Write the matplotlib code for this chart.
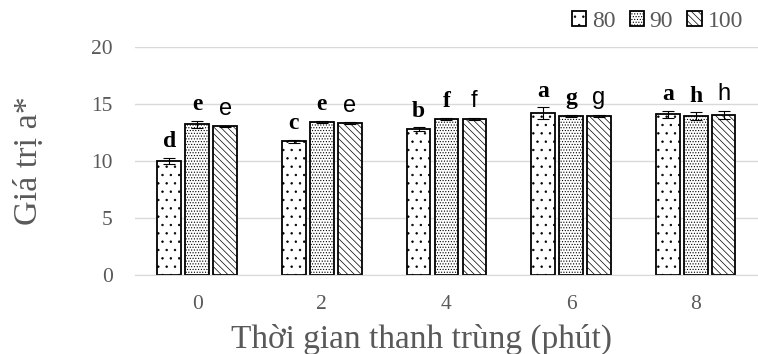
import numpy as np
import matplotlib.pyplot as plt
from matplotlib.patches import Patch

# data
times = ['0', '2', '4', '6', '8']
temps = ['80', '90', '100']
a80 = [10.0, 11.7, 12.8, 14.2, 14.1]
a90 = [13.2, 13.4, 13.7, 13.95, 13.9]
a100 = [13.05, 13.3, 13.7, 13.95, 14.05]
err80 = [0.25, 0.15, 0.15, 0.5, 0.3]
err90 = [0.3, 0.12, 0.1, 0.08, 0.35]
err100 = [0.05, 0.08, 0.08, 0.08, 0.35]
lab80 = ['d', 'c', 'b', 'a', 'a']
lab90 = ['e', 'e', 'f', 'g', 'h']
lab100 = ['e', 'e', 'f', 'g', 'h']

plt.rcParams['hatch.linewidth'] = 0.5
serif = ['Liberation Serif', 'DejaVu Serif']
gray = '#595959'
hatches = ['..', '......', '\\\\\\\\\\']

fig = plt.figure(figsize=(7.58, 3.54), dpi=100)
ax = fig.add_axes([0.178, 0.223, 0.822, 0.645])

x = np.arange(len(times))
pitch = 0.224
width = 0.19
series = [(a80, err80, lab80, hatches[0], ['Liberation Serif'], 'bold'),
          (a90, err90, lab90, hatches[1], ['Liberation Serif'], 'bold'),
          (a100, err100, lab100, hatches[2], ['Liberation Sans'], 'normal')]

for i, (vals, errs, labs, hatch, fam, wt) in enumerate(series):
    pos = x + (i - 1) * pitch
    ax.bar(pos, vals, width, color='white', edgecolor='black', linewidth=1.3,
           hatch=hatch, zorder=2)
    ax.errorbar(pos, vals, yerr=errs, fmt='none', ecolor='black', elinewidth=0.8,
                capsize=4.5, capthick=0.8, zorder=3)
    for p, v, e, l in zip(pos, vals, errs, labs):
        ax.annotate(l, (p, v + e), xytext=(0, 4), textcoords='offset points',
                    ha='center', va='bottom', fontsize=17, fontweight=wt,
                    family=fam, color='black')

ax.set_xlim(-0.5, 4.5)
ax.set_ylim(0, 20)
ax.set_yticks([0, 5, 10, 15, 20])
ax.set_xticks(x)
ax.set_xticklabels(times)
ax.yaxis.grid(True, color='#d9d9d9', linewidth=1)
ax.set_axisbelow(True)
for s in ['top', 'right', 'left']:
    ax.spines[s].set_visible(False)
ax.spines['bottom'].set_color('#d9d9d9')
ax.tick_params(length=0, labelsize=15.5, labelcolor=gray)
ax.tick_params(axis='x', pad=14)
ax.tick_params(axis='y', pad=16)
for t in ax.get_xticklabels() + ax.get_yticklabels():
    t.set_family(serif)

ax.set_ylabel('Giá trị a*', fontsize=24.5, family=serif, color=gray)
ax.yaxis.set_label_coords(-0.146, 0.5)
ax.set_xlabel('Thời gian thanh trùng (phút)', fontsize=24, family=serif,
              color=gray)
ax.xaxis.set_label_coords(0.46, -0.215)

handles = [Patch(facecolor='white', edgecolor='black', linewidth=1.3,
                 hatch=h, label=t)
           for h, t in zip(hatches, temps)]
fig.legend(handles=handles, loc='upper right', bbox_to_anchor=(1.008, 1.03),
           ncol=3, frameon=False, handlelength=0.6, handleheight=0.6,
           handletextpad=0.25, columnspacing=0.6,
           prop={'family': serif, 'size': 17}, labelcolor=gray)

fig.savefig('out.png', dpi=100)
